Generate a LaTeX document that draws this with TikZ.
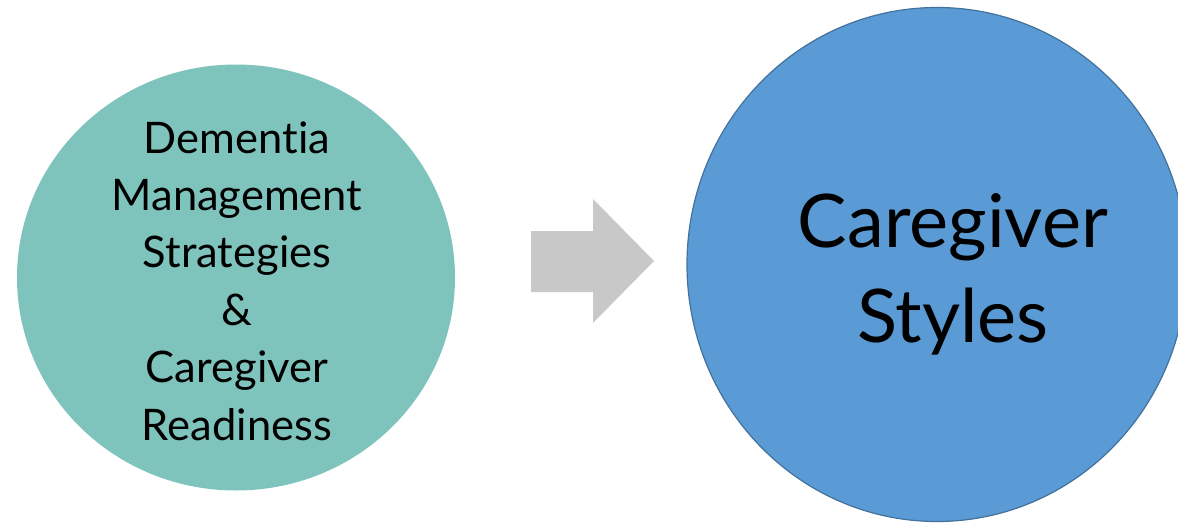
\documentclass[tikz,border=0pt]{standalone}
\usepackage{fontspec}
\setmainfont[Ligatures=NoCommon]{Lato}
\usetikzlibrary{shapes.geometric}
\definecolor{teal1}{HTML}{7FC4BC}
\definecolor{blue1}{HTML}{5B9BD5}
\definecolor{blueedge}{HTML}{41719C}
\definecolor{arrowgray}{HTML}{C8C8C8}
\tikzset{
  bubble/.style={ellipse, inner sep=0pt},
  lbl/.style={align=center, text=black, inner sep=0pt}
}
\begin{document}
\begin{tikzpicture}[x=1pt,y=-1pt]
\useasboundingbox (0,0) rectangle (1178,524);
\node[bubble, fill=teal1, minimum width=438pt, minimum height=426pt] (left) at (236,277.5) {};
\node[bubble, fill=blue1, draw=blueedge, line width=1.2pt, minimum width=500pt, minimum height=514pt] (right) at (937,264.5) {};
\node[lbl, anchor=base, font=\fontsize{43.5}{57.4}\selectfont] (lt) at (237,440)
  {Dementia\\Management\\Strategies\\\&\\Caregiver\\Readiness};
\node[lbl, anchor=base, font=\fontsize{74}{95}\selectfont] (rt) at (953,342)
  {Caregiver\\Styles};
\fill[arrowgray] (531,231) -- (593,231) -- (593,199) -- (654,261) -- (593,323) -- (593,292) -- (531,292) -- cycle;
\end{tikzpicture}
\end{document}
